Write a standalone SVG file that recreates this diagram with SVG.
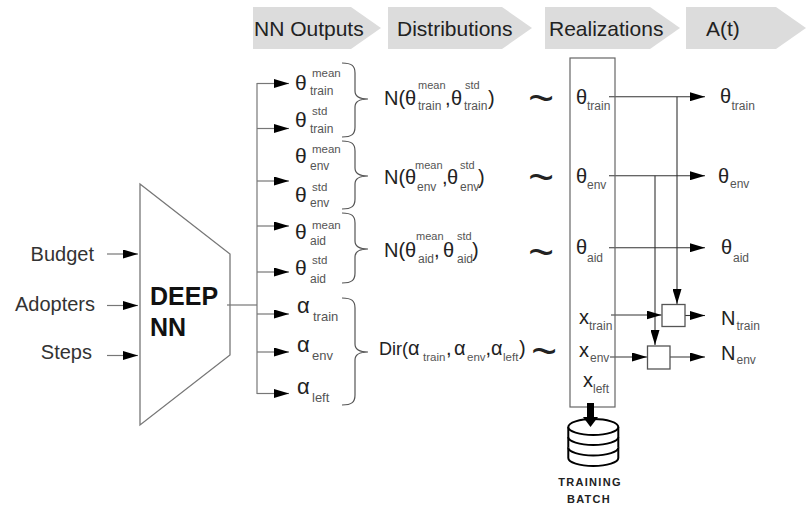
<svg xmlns="http://www.w3.org/2000/svg" width="806" height="506" viewBox="0 0 806 506">
<style>
text{font-family:'Liberation Sans',Arial,sans-serif}
.hd{fill:#dcdcdc}
.ht{font-size:21px;fill:#222}
.in{font-size:20px;fill:#333}
.m{font-size:21px;fill:#222}
.a{font-size:22px;fill:#222}
.d{font-size:20px;fill:#222}
.s{font-size:12px;fill:#555}
.sp{font-size:11px;fill:#555}
.sd{font-size:11.5px;fill:#555}
.s13{font-size:13px;fill:#555}
.tl{font-size:44px;fill:#222;text-anchor:middle}
.gl{stroke:#777;stroke-width:1.2;fill:none}
.bl{stroke:#333;stroke-width:1.1;fill:none}
.br{stroke:#555;stroke-width:1.2;fill:none}
.bx{stroke:#555;stroke-width:1.3;fill:#fff}
.db{stroke:#000;stroke-width:2;fill:#fff}
.lb{font-size:11px;font-weight:bold;fill:#222;letter-spacing:1.3px;text-anchor:middle}
</style>
<defs>
<marker id="ah" viewBox="0 0 15 9" refX="15" refY="4.5" markerWidth="15" markerHeight="9" orient="auto" markerUnits="userSpaceOnUse"><path d="M0,0 L15,4.5 L0,9 z" fill="#000"/></marker>
</defs>

<g id="header">
<g id="h-nn"><polygon class="hd" points="253,7 351,7 381,28 351,49 253,49"/><text class="ht" x="254" y="36">NN Outputs</text></g>
<g id="h-dist"><polygon class="hd" points="388,7 502,7 532,28 502,49 388,49"/><text class="ht" x="397" y="36">Distributions</text></g>
<g id="h-real"><polygon class="hd" points="545,7 650,7 680,28 650,49 545,49"/><text class="ht" x="549" y="36">Realizations</text></g>
<g id="h-at"><polygon class="hd" points="686,7 776,7 806,28 776,49 686,49"/><text class="ht" x="706" y="36">A(t)</text></g>
</g>

<g id="inputs">
<text class="in" x="94" y="261" text-anchor="end">Budget</text>
<text class="in" x="95" y="311" text-anchor="end">Adopters</text>
<text class="in" x="92" y="359" text-anchor="end">Steps</text>
</g>

<g id="deep-nn">
<polygon points="140,184 230,254 230,355 140,425" fill="#fff" stroke="#777" stroke-width="1.3"/>
<text x="150" y="305" font-size="25" font-weight="bold" fill="#111">DEEP</text>
<text x="150" y="336" font-size="25" font-weight="bold" fill="#111">NN</text>
</g>

<g id="connectors">
<line class="gl" x1="107" y1="254" x2="138" y2="254" marker-end="url(#ah)"/>
<line class="gl" x1="107" y1="305.5" x2="138" y2="305.5" marker-end="url(#ah)"/>
<line class="gl" x1="107" y1="355.5" x2="138" y2="355.5" marker-end="url(#ah)"/>
<line class="gl" x1="227" y1="305" x2="257" y2="305"/>
<line class="gl" x1="257" y1="83" x2="257" y2="394"/>
<line class="gl" x1="257" y1="83.5" x2="289" y2="83.5" marker-end="url(#ah)"/>
<line class="gl" x1="257" y1="128.5" x2="289" y2="128.5" marker-end="url(#ah)"/>
<line class="gl" x1="257" y1="181" x2="289" y2="181" marker-end="url(#ah)"/>
<line class="gl" x1="257" y1="226" x2="289" y2="226" marker-end="url(#ah)"/>
<line class="gl" x1="257" y1="272" x2="289" y2="272" marker-end="url(#ah)"/>
<line class="gl" x1="257" y1="314" x2="289" y2="314" marker-end="url(#ah)"/>
<line class="gl" x1="257" y1="352" x2="289" y2="352" marker-end="url(#ah)"/>
<line class="gl" x1="257" y1="393.5" x2="289" y2="393.5" marker-end="url(#ah)"/>

<line class="bl" x1="609" y1="96.7" x2="705" y2="96.7" marker-end="url(#ah)"/>
<line class="bl" x1="609" y1="175.7" x2="705" y2="175.7" marker-end="url(#ah)"/>
<line class="bl" x1="609" y1="247.7" x2="705" y2="247.7" marker-end="url(#ah)"/>
<line class="bl" x1="677" y1="96.7" x2="677" y2="304" marker-end="url(#ah)"/>
<line class="bl" x1="655" y1="175.7" x2="655" y2="345" marker-end="url(#ah)"/>
<line class="bl" x1="611" y1="315" x2="661.5" y2="315" marker-end="url(#ah)"/>
<line class="bl" x1="610" y1="357" x2="647" y2="357" marker-end="url(#ah)"/>
<line class="bl" x1="685" y1="315.5" x2="705" y2="315.5" marker-end="url(#ah)"/>
<line class="bl" x1="670" y1="357" x2="705" y2="357" marker-end="url(#ah)"/>
</g>

<g id="nn-outputs">
<text class="m" x="295" y="89.5">θ</text><text class="sd" x="312" y="77">mean</text><text class="s" x="310" y="95">train</text>
<text class="m" x="295" y="127">θ</text><text class="sd" x="312" y="115">std</text><text class="s" x="310" y="133">train</text>
<text class="m" x="295" y="163">θ</text><text class="sd" x="312" y="153">mean</text><text class="s" x="310" y="170">env</text>
<text class="m" x="295" y="202">θ</text><text class="sd" x="312" y="191">std</text><text class="s" x="310" y="207">env</text>
<text class="m" x="295" y="239">θ</text><text class="sd" x="312" y="229">mean</text><text class="s" x="310" y="245">aid</text>
<text class="m" x="295" y="275">θ</text><text class="sd" x="312" y="264">std</text><text class="s" x="310" y="283">aid</text>
<text class="a" x="297" y="313">α</text><text class="s13" x="313" y="321">train</text>
<text class="a" x="297" y="352">α</text><text class="s13" x="312" y="360">env</text>
<text class="a" x="297" y="394">α</text><text class="s13" x="312" y="402">left</text>
</g>

<g id="braces">
<path class="br" d="M342,63 C352,63 355,66 355,73 L355,91 C355,96 358,99 368,99 C358,99 355,102 355,107 L355,127 C355,134 352,137 342,137"/>
<path class="br" d="M342,141 C352,141 355,144 355,151 L355,168 C355,173 358,176 368,176 C358,176 355,179 355,184 L355,199 C355,206 352,209 342,209"/>
<path class="br" d="M342,213 C352,213 355,216 355,223 L355,241 C355,246 358,249 368,249 C358,249 355,252 355,257 L355,273 C355,280 352,283 342,283"/>
<path class="br" d="M342,298 C352,298 355,301 355,308 L355,344 C355,349 358,352 368,352 C358,352 355,355 355,360 L355,395 C355,402 352,405 342,405"/>
</g>

<g id="distributions">
<g id="dist-train">
<text class="d" x="384" y="104.5">N(θ</text><text class="sp" x="418" y="89">mean</text><text class="s" x="418" y="109.5">train</text>
<text class="d" x="445" y="104.5">,</text><text class="d" x="451" y="104.5">θ</text><text class="sp" x="465" y="89">std</text><text class="s" x="464" y="109.5">train</text>
<text class="d" x="488" y="104.5">)</text>
</g>
<g id="dist-env">
<text class="d" x="384" y="183.5">N(θ</text><text class="sp" x="415" y="168.5">mean</text><text class="s" x="417" y="191">env</text>
<text class="d" x="442" y="183.5">,</text><text class="d" x="447" y="183.5">θ</text><text class="sp" x="460" y="168.5">std</text><text class="s" x="460" y="191">env</text>
<text class="d" x="478" y="183.5">)</text>
</g>
<g id="dist-aid">
<text class="d" x="384" y="256.5">N(θ</text><text class="sp" x="416" y="239.5">mean</text><text class="s" x="418" y="262.5">aid</text>
<text class="d" x="434" y="256.5">,</text><text class="d" x="443" y="256.5">θ</text><text class="sp" x="457" y="239.5">std</text><text class="s" x="457" y="262.5">aid</text>
<text class="d" x="472" y="256.5">)</text>
</g>
<g id="dist-dir">
<text x="379" y="355" font-size="18" fill="#222">Dir(</text>
<text class="d" x="408" y="355">α</text><text class="sd" x="423" y="361">train</text><text class="d" x="446" y="355">,</text>
<text class="d" x="454" y="355">α</text><text class="sd" x="467" y="361">env</text><text class="d" x="485.5" y="355">,</text>
<text class="d" x="491" y="355">α</text><text class="sd" x="503" y="361">left</text>
<text class="d" x="519" y="355">)</text>
</g>
<text class="tl" x="541" y="112.5">~</text>
<text class="tl" x="541" y="191.5">~</text>
<text class="tl" x="541" y="266.5">~</text>
<text class="tl" x="544" y="366">~</text>
</g>

<g id="realizations">
<rect x="570" y="58" width="45" height="349" fill="none" stroke="#666" stroke-width="1.2"/>
<text class="d" x="576" y="103.5">θ</text><text class="s" x="587" y="110">train</text>
<text class="d" x="576" y="183">θ</text><text class="s" x="587" y="188.5">env</text>
<text class="d" x="576" y="254">θ</text><text class="s" x="587" y="262">aid</text>
<text class="d" x="579" y="323.5">x</text><text class="s" x="589" y="330">train</text>
<text class="d" x="579" y="356.5">x</text><text class="s" x="590" y="362">env</text>
<text class="d" x="583" y="387">x</text><text class="s" x="593" y="393">left</text>
</g>

<g id="box-train"><rect class="bx" x="662" y="304.5" width="23" height="22"/></g>
<g id="box-env"><rect class="bx" x="647.5" y="346" width="22.5" height="23"/></g>

<g id="outputs">
<text class="d" x="720" y="103">θ</text><text class="s" x="731.5" y="110">train</text>
<text class="d" x="718" y="182.5">θ</text><text class="s" x="730" y="188">env</text>
<text class="d" x="721" y="254">θ</text><text class="s" x="733" y="262">aid</text>
<text class="d" x="721" y="325">N</text><text class="s" x="736.5" y="330">train</text>
<text class="d" x="721" y="360">N</text><text class="s" x="736.5" y="364">env</text>
</g>

<g id="training-batch">
<path class="db" d="M568.3,427 L568.3,458 A25,8 0 0 0 618.3,458 L618.3,427"/>
<path class="db" d="M568.3,437 A25,8 0 0 0 618.3,437"/>
<path class="db" d="M568.3,447.5 A25,8 0 0 0 618.3,447.5"/>
<ellipse class="db" cx="593.3" cy="427" rx="25" ry="8"/>
<line x1="590.5" y1="403" x2="590.5" y2="418" stroke="#000" stroke-width="7"/>
<polygon points="583,417 598,417 590.5,427" fill="#000"/>
<text class="lb" x="590" y="486">TRAINING</text>
<text class="lb" x="589" y="503">BATCH</text>
</g>
</svg>
